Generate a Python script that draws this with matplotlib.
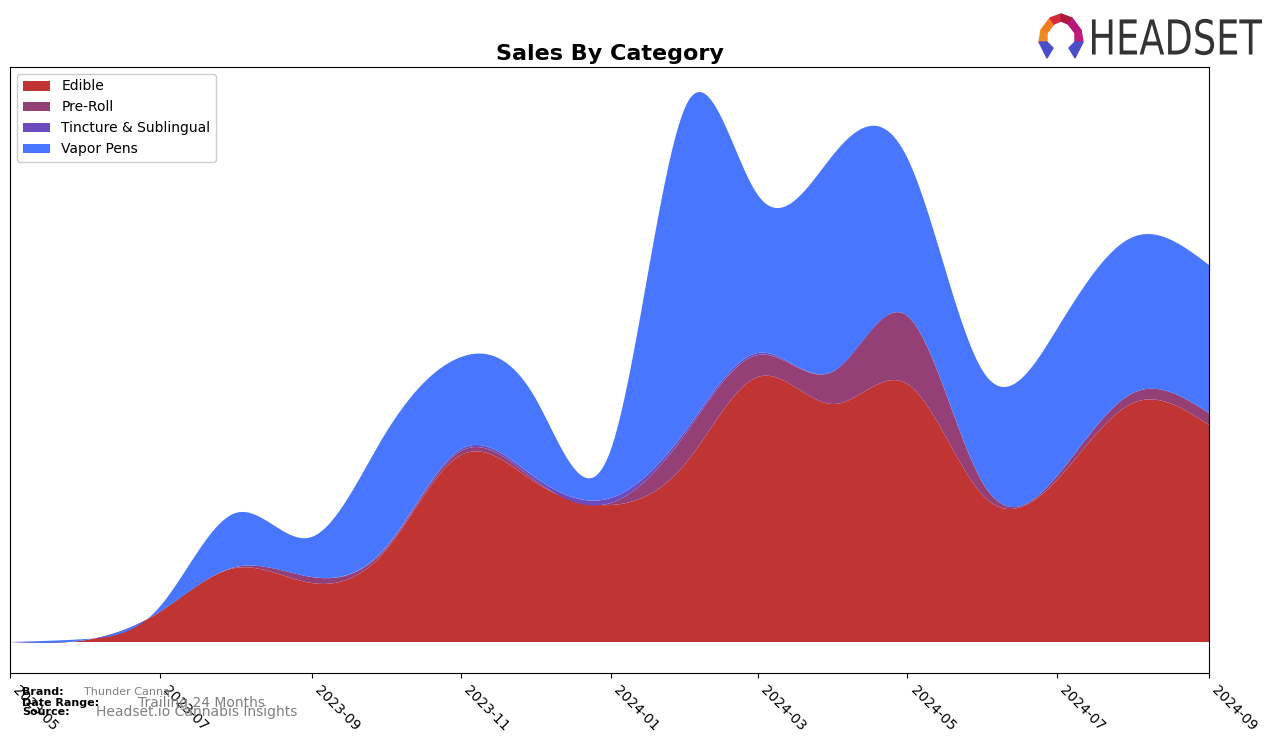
import matplotlib
matplotlib.use("Agg")
import matplotlib.pyplot as plt
import matplotlib.dates as mdates
from matplotlib.patches import Polygon, PathPatch
from matplotlib.textpath import TextPath
from matplotlib.font_manager import FontProperties
from matplotlib.transforms import Affine2D
import numpy as np
import pandas as pd

# monthly sales (arbitrary units)
months = pd.date_range("2023-05-01", "2024-09-01", freq="MS")
edible = [0, 2, 30, 74, 59, 91, 187, 160, 137, 180, 265, 238, 258, 146, 162, 239, 217]
pre_roll = [0, 0, 0, 1, 6, 2, 4, 2, 2, 30, 22, 33, 68, 12, 4, 10, 12]
tincture = [0, 0, 0, 0, 0, 1, 2, 3, 5, 3, 2, 0, 0, 0, 0, 0, 0]
vapor_pens = [0, 1, 5, 54, 40, 114, 92, 80, 48, 325, 158, 217, 158, 112, 147, 156, 148]

labels = ["Edible", "Pre-Roll", "Tincture & Sublingual", "Vapor Pens"]
colors = ["#c13434", "#953f77", "#6d4bbf", "#4876fe"]
tick_labels = ["2023-05", "2023-07", "2023-09", "2023-11", "2024-01",
               "2024-03", "2024-05", "2024-07", "2024-09"]


def natural_spline(x, y, xs):
    x = np.asarray(x, float)
    y = np.asarray(y, float)
    n = len(x)
    h = np.diff(x)
    A = np.zeros((n, n))
    b = np.zeros(n)
    A[0, 0] = 1
    A[-1, -1] = 1
    for i in range(1, n - 1):
        A[i, i - 1] = h[i - 1]
        A[i, i] = 2 * (h[i - 1] + h[i])
        A[i, i + 1] = h[i]
        b[i] = 6 * ((y[i + 1] - y[i]) / h[i] - (y[i] - y[i - 1]) / h[i - 1])
    M = np.linalg.solve(A, b)
    idx = np.clip(np.searchsorted(x, xs) - 1, 0, n - 2)
    x0, x1 = x[idx], x[idx + 1]
    hh = x1 - x0
    t0, t1 = x1 - xs, xs - x0
    return (M[idx] * t0 ** 3 / (6 * hh) + M[idx + 1] * t1 ** 3 / (6 * hh)
            + (y[idx] / hh - M[idx] * hh / 6) * t0
            + (y[idx + 1] / hh - M[idx + 1] * hh / 6) * t1)


xnum = mdates.date2num(months)
xs = np.linspace(xnum[0], xnum[-1], 600)
series = [natural_spline(xnum, s, xs) for s in (edible, pre_roll, tincture, vapor_pens)]

fig = plt.figure(figsize=(12.76, 7.43), dpi=100)
ax = fig.add_axes([10 / 1276, 1 - 673 / 743, 1199 / 1276, 606 / 743])
ax.stackplot(xs, *series, labels=labels, colors=colors, linewidth=0)

ax.set_xlim(xnum[0], xnum[-1])
ax.set_ylim(-31, 575)
ax.set_yticks([])
tick_pos = mdates.date2num(pd.to_datetime([t + "-01" for t in tick_labels]))
ax.set_xticks(tick_pos)
ax.set_xticklabels(tick_labels, rotation=-45, ha="left", fontsize=10)
ax.set_title("Sales By Category", fontsize=16, fontweight="bold", pad=5)
ax.legend(loc="upper left", fontsize=10, framealpha=1, labelspacing=0.5)

# footer
fig.text(22 / 1276, 1 - 692 / 743, "Brand:", fontsize=8, fontweight="bold", va="center")
fig.text(84 / 1276, 1 - 692 / 743, "Thunder Canna", fontsize=8, color="grey", va="center")
fig.text(22 / 1276, 1 - 703 / 743, "Date Range:", fontsize=8, fontweight="bold", va="center")
fig.text(138 / 1276, 1 - 703 / 743, "Trailing 24 Months", fontsize=10, color="grey", va="center")
fig.text(22 / 1276, 1 - 712 / 743, "Source:", fontsize=8, fontweight="bold", va="center")
fig.text(96 / 1276, 1 - 712 / 743, "Headset.io Cannabis Insights", fontsize=10, color="grey", va="center")

# logo icon
lax = fig.add_axes([1036 / 1276, 1 - 60 / 743, 50 / 1276, 48 / 743])
lax.set_xlim(0, 50)
lax.set_ylim(0, 48)
lax.axis("off")
pieces = [
    ([(5, 30), (14, 42), (18, 36), (11, 27)], "#f47a20"),
    ([(14, 42), (25, 46), (25, 39), (18, 36)], "#d42a3a"),
    ([(25, 46), (36, 42), (32, 36), (25, 39)], "#b0173c"),
    ([(36, 42), (45, 30), (39, 27), (32, 36)], "#b5197d"),
    ([(5, 30), (11, 27), (11, 18), (3, 18)], "#f08a24"),
    ([(45, 30), (39, 27), (39, 18), (47, 18)], "#c21a7a"),
    ([(3, 18), (11, 18), (17, 12), (11, 2)], "#4a4fc9"),
    ([(47, 18), (39, 18), (33, 12), (39, 2)], "#4a4fc9"),
]
for pts, c in pieces:
    lax.add_patch(Polygon(pts, closed=True, color=c))

# logo word, squeezed to fit its box
tax = fig.add_axes([1092 / 1276, 1 - 57 / 743, 170 / 1276, 40 / 743])
tax.axis("off")
tp = TextPath((0, 0), "HEADSET", size=10, prop=FontProperties(family="DejaVu Sans"))
bb = tp.get_extents()
tr = Affine2D().translate(-bb.x0, -bb.y0).scale(1 / bb.width, 1 / bb.height)
tax.add_patch(PathPatch(tr.transform_path(tp), color="#333333", lw=0))
tax.set_xlim(0, 1)
tax.set_ylim(-0.05, 1.05)

fig.savefig("out.png", dpi=100)
